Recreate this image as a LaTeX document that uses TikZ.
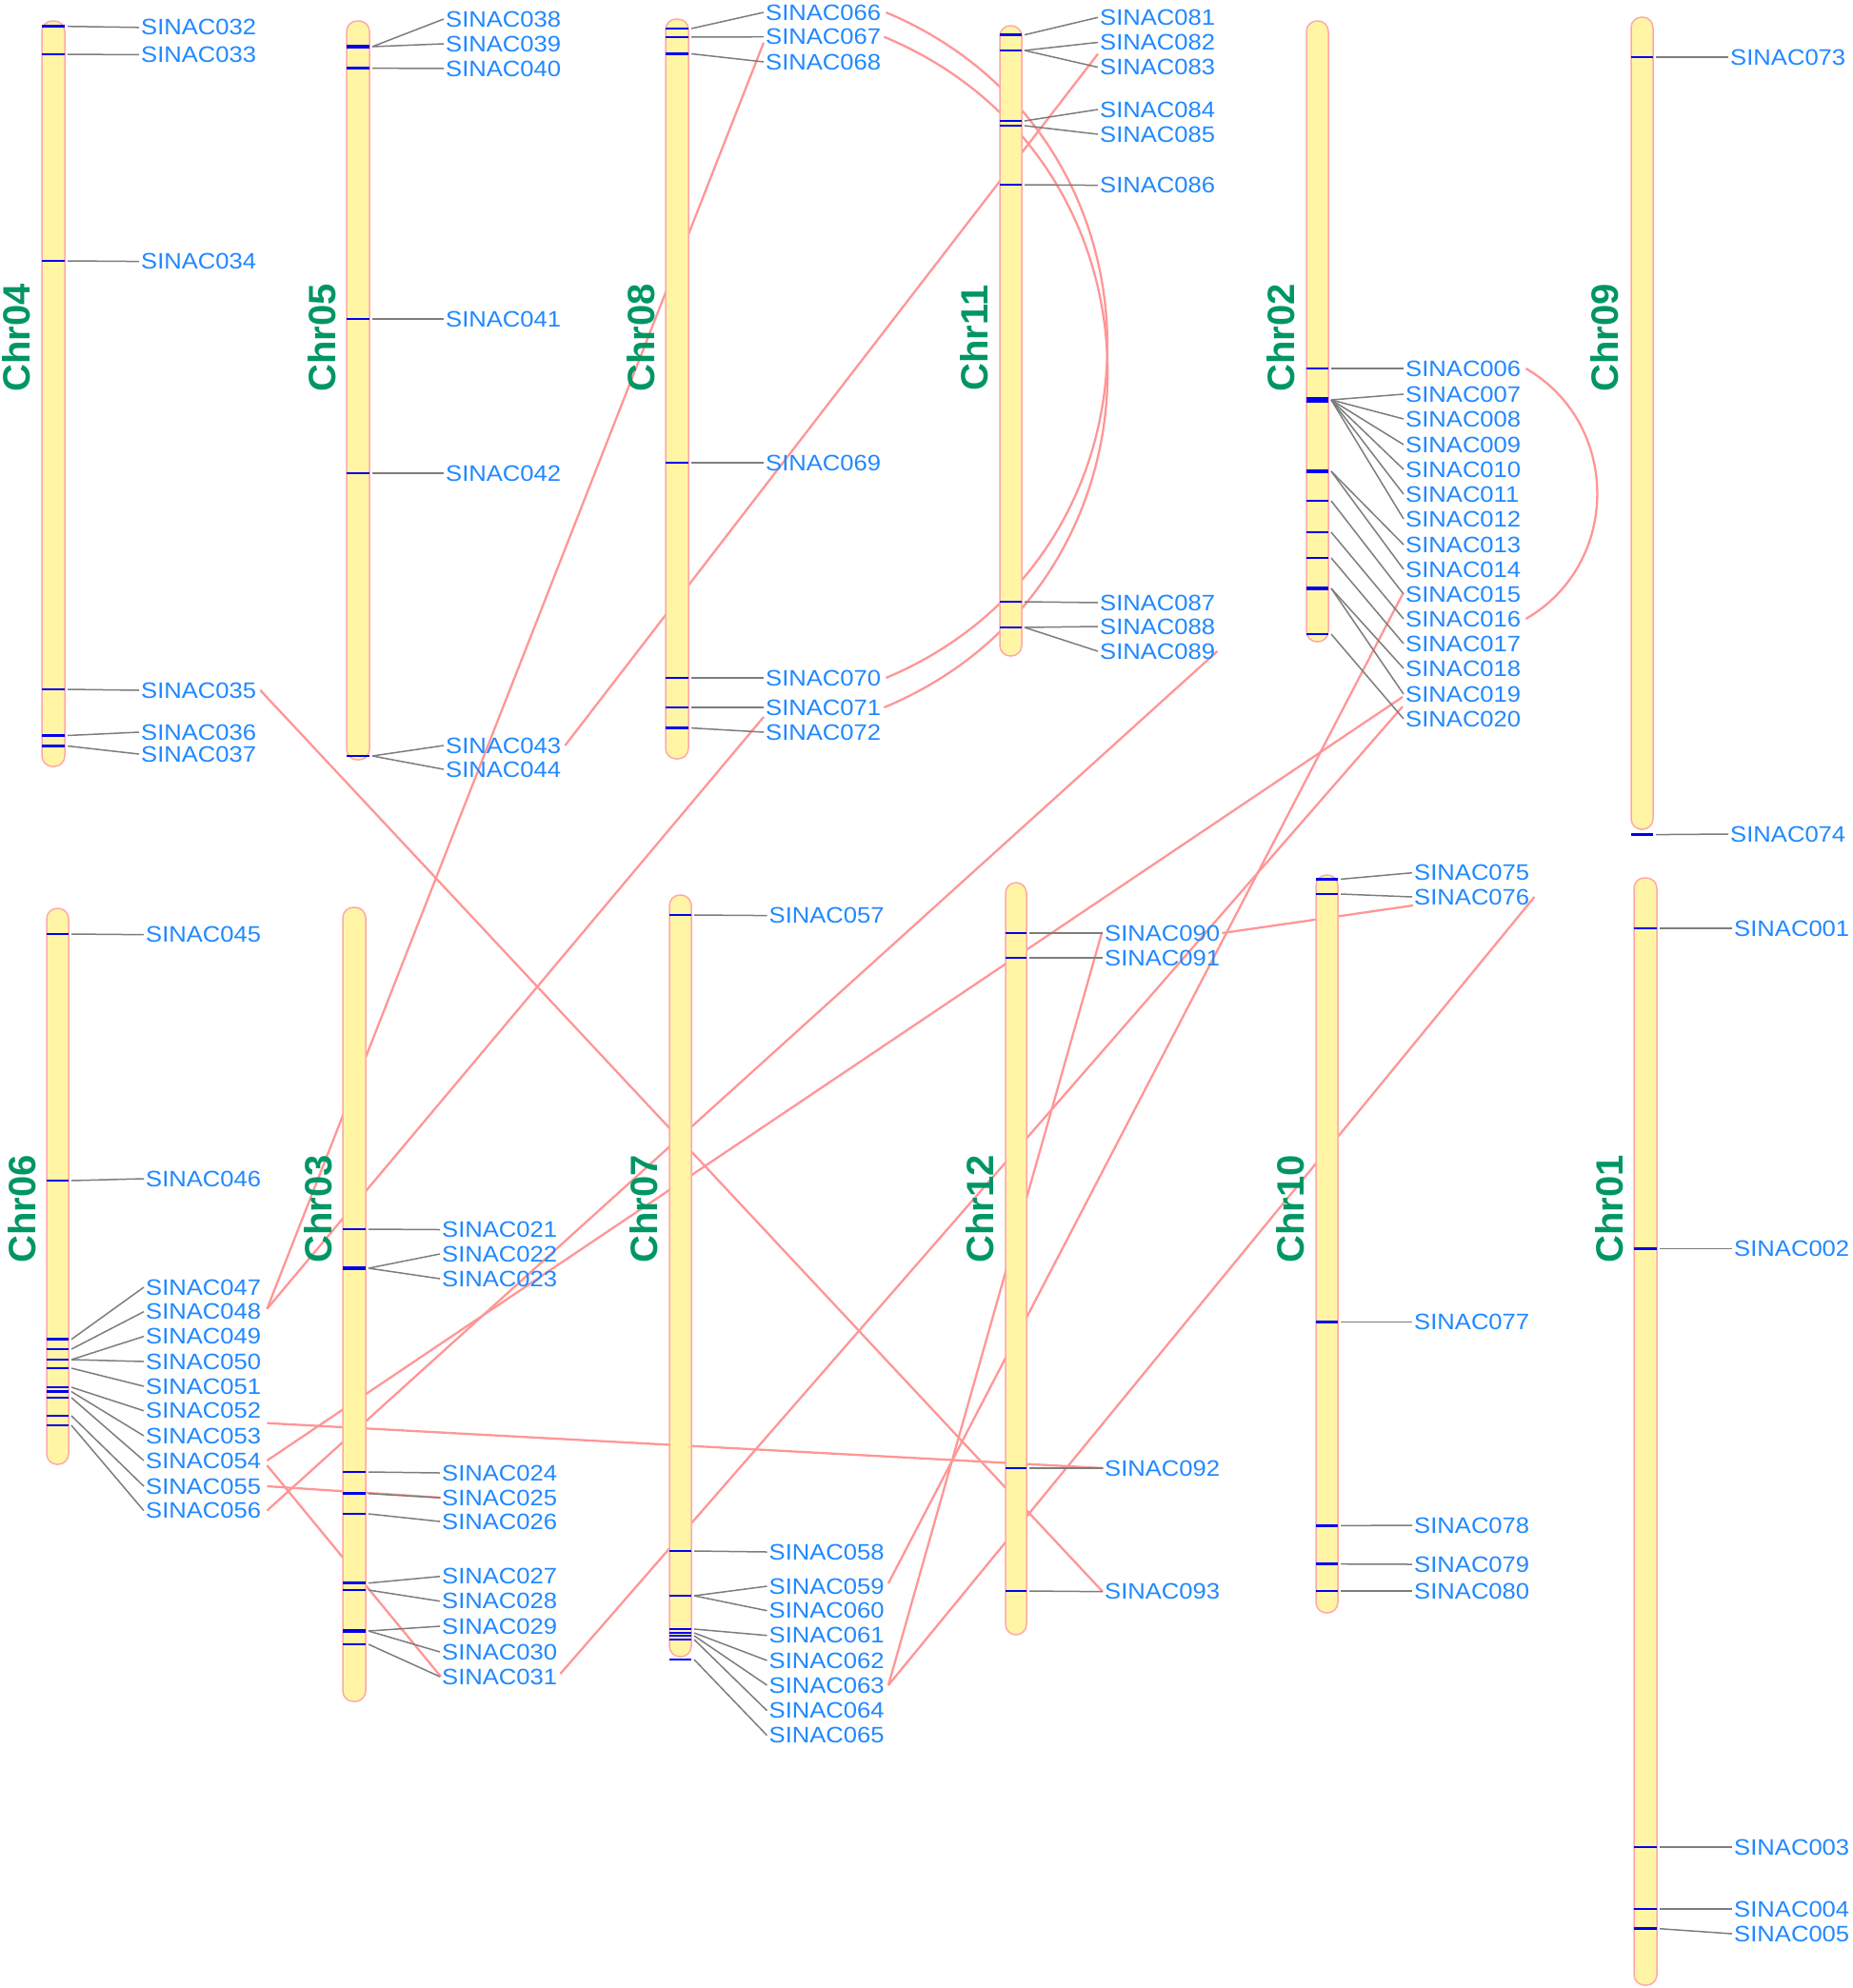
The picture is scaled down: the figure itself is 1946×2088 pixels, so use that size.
\documentclass[tikz,border=0pt]{standalone}
\usepackage{fontspec}
\setmainfont{Liberation Sans}
\newfontfamily\genefont{Liberation Sans}[FakeStretch=1.09]
\pgfdeclarelayer{back}
\pgfsetlayers{back,main}
\definecolor{chrfill}{RGB}{255,245,165}
\definecolor{chredge}{RGB}{255,168,168}
\definecolor{bandblue}{RGB}{0,0,240}
\definecolor{tickgray}{RGB}{125,125,125}
\definecolor{genetext}{RGB}{32,136,255}
\definecolor{chrgreen}{RGB}{0,150,100}
\definecolor{linkred}{RGB}{255,150,150}
\tikzset{
  chrbar/.style={draw=chredge, fill=chrfill, line width=1.5pt, rounded corners=11pt},
  chrname/.style={rotate=90, inner sep=0, text=chrgreen, font=\fontsize{40}{40}\selectfont\bfseries},
  band/.style={draw=bandblue, line width=2.5pt},
  tick/.style={draw=tickgray, line width=1.5pt},
  gene/.style={anchor=west, inner sep=0, text=genetext, font=\genefont\fontsize{23.5}{24}\selectfont},
  link/.style={draw=linkred, line width=2.3pt},
}
\begin{document}
\begin{tikzpicture}[x=1pt, y=-1pt]
  \useasboundingbox (0,0) rectangle (1946,2088);

  % top row
  \node[chrname] (c04) at (17,355) {Chr04};
  \draw[chrbar] (44,22) rectangle (68,805);
  \foreach \g/\b/\t in {032/27.7/28.8, 033/57/57.5, 034/274/274.6, 035/724/725, 036/772.5/769, 037/783.5/792} {
    \node[gene] (g\g) at (148,\t) {SINAC\g};
    \draw[band] (44,\b) -- (68,\b);
    \draw[tick] (71,\b) -- ([xshift=-2pt]g\g.west);
  }

  \node[chrname] (c05) at (338,355) {Chr05};
  \draw[chrbar] (364,22) rectangle (388,798);
  \foreach \g/\b/\t in {038/49/20, 039/49/46, 040/71.6/72, 041/335/335, 042/497/497, 043/794/783, 044/794/808} {
    \node[gene] (g\g) at (468,\t) {SINAC\g};
    \draw[band] (364,\b) -- (388,\b);
    \draw[tick] (391,\b) -- ([xshift=-2pt]g\g.west);
  }
  \draw[band, line width=4pt] (364,49) -- (388,49);

  \node[chrname] (c08) at (673,355) {Chr08};
  \draw[chrbar] (699,20) rectangle (723,797);
  \foreach \g/\b/\t in {066/30/13, 067/39/38.7, 068/56.5/65, 069/486/486, 070/712/712, 071/743/743, 072/764.6/769} {
    \node[gene] (g\g) at (804,\t) {SINAC\g};
    \draw[band] (699,\b) -- (723,\b);
    \draw[tick] (726,\b) -- ([xshift=-2pt]g\g.west);
  }

  \node[chrname] (c11) at (1023,355) {Chr11};
  \draw[chrbar] (1050,27) rectangle (1073,689);
  \foreach \g/\b/\t in {081/36.6/18.3, 082/53/44.5, 083/53/70.6, 084/127/115, 085/132/141, 086/194/194.6, 087/632/633, 088/659/658, 089/659/684} {
    \node[gene] (g\g) at (1155,\t) {SINAC\g};
    \draw[band] (1050,\b) -- (1073,\b);
    \draw[tick] (1076,\b) -- ([xshift=-2pt]g\g.west);
  }

  \node[chrname] (c02) at (1345,355) {Chr02};
  \draw[chrbar] (1372,22) rectangle (1395,674);
  \foreach \g/\b/\t in {006/387/387, 007/420/414, 008/420/440, 009/420/467, 010/420/493, 011/420/519, 012/420/545, 013/495/572, 014/495/598, 015/526/624, 016/559/650, 017/586/676, 018/618/702, 019/618/729, 020/666/755} {
    \node[gene] (g\g) at (1476,\t) {SINAC\g};
    \draw[band] (1372,\b) -- (1395,\b);
    \draw[tick] (1398,\b) -- ([xshift=-2pt]g\g.west);
  }
  \draw[band, line width=6pt] (1372,420) -- (1395,420);
  \draw[band, line width=4.5pt] (1372,495) -- (1395,495);
  \draw[band, line width=4.5pt] (1372,618) -- (1395,618);

  \node[chrname] (c09) at (1685,355) {Chr09};
  \draw[chrbar] (1713,18) rectangle (1736,871);
  \foreach \g/\b/\t in {073/60/60, 074/876.6/876} {
    \node[gene] (g\g) at (1817,\t) {SINAC\g};
    \draw[band] (1713,\b) -- (1736,\b);
    \draw[tick] (1739,\b) -- ([xshift=-2pt]g\g.west);
  }

  % bottom row
  \node[chrname] (c06) at (23,1270) {Chr06};
  \draw[chrbar] (49,954) rectangle (72,1538);
  \foreach \g/\b/\t in {045/981/981.7, 046/1240/1238, 047/1406.7/1352, 048/1417/1377.7, 049/1428/1403.6, 050/1428/1430, 051/1437/1456, 052/1457/1481.7, 053/1461.6/1508, 054/1468/1534, 055/1487/1561, 056/1497/1586.6} {
    \node[gene] (g\g) at (153,\t) {SINAC\g};
    \draw[band] (49,\b) -- (72,\b);
    \draw[tick] (75,\b) -- ([xshift=-2pt]g\g.west);
  }

  \node[chrname] (c03) at (334,1270) {Chr03};
  \draw[chrbar] (360,953) rectangle (384,1787);
  \foreach \g/\b/\t in {021/1291/1291.5, 022/1332/1317, 023/1332/1343, 024/1546/1547, 025/1568.7/1573, 026/1590/1598, 027/1662.7/1655.7, 028/1670/1681.7, 029/1713/1708, 030/1713/1735, 031/1727/1761} {
    \node[gene] (g\g) at (464,\t) {SINAC\g};
    \draw[band] (360,\b) -- (384,\b);
    \draw[tick] (387,\b) -- ([xshift=-2pt]g\g.west);
  }
  \draw[band, line width=4pt] (360,1332) -- (384,1332);
  \draw[band, line width=4pt] (360,1713) -- (384,1713);

  \node[chrname] (c07) at (676,1270) {Chr07};
  \draw[chrbar] (703,940) rectangle (726,1740);
  \foreach \g/\b/\t in {057/961/961.6, 058/1629/1630, 059/1676/1666, 060/1676/1691.7, 061/1711/1717.7, 062/1715/1744, 063/1718/1770, 064/1722/1796.7, 065/1743/1822.7} {
    \node[gene] (g\g) at (807.5,\t) {SINAC\g};
    \draw[band] (703,\b) -- (726,\b);
    \draw[tick] (729,\b) -- ([xshift=-2pt]g\g.west);
  }

  \node[chrname] (c12) at (1029,1270) {Chr12};
  \draw[chrbar] (1056,927) rectangle (1078,1717);
  \foreach \g/\b/\t in {090/980/980, 091/1006/1006, 092/1542/1542, 093/1671/1671.7} {
    \node[gene] (g\g) at (1160,\t) {SINAC\g};
    \draw[band] (1056,\b) -- (1078,\b);
    \draw[tick] (1081,\b) -- ([xshift=-2pt]g\g.west);
  }

  \node[chrname] (c10) at (1355,1270) {Chr10};
  \draw[chrbar] (1382,919) rectangle (1405,1694);
  \foreach \g/\b/\t in {075/923.4/916.7, 076/939/942, 077/1388.7/1388.7, 078/1602.4/1602, 079/1642.7/1643, 080/1671/1671} {
    \node[gene] (g\g) at (1485,\t) {SINAC\g};
    \draw[band] (1382,\b) -- (1405,\b);
    \draw[tick] (1408,\b) -- ([xshift=-2pt]g\g.west);
  }

  \node[chrname] (c01) at (1690,1270) {Chr01};
  \draw[chrbar] (1716,922) rectangle (1740,2085);
  \foreach \g/\b/\t in {001/975/975, 002/1311.6/1311.6, 003/1940/1940, 004/2005/2005, 005/2025.7/2031} {
    \node[gene] (g\g) at (1821,\t) {SINAC\g};
    \draw[band] (1716,\b) -- (1740,\b);
    \draw[tick] (1743,\b) -- ([xshift=-2pt]g\g.west);
  }

  % duplicated pairs, behind the chromosomes
  \begin{pgfonlayer}{back}
    \draw[link] ([xshift=4pt]g035.east) -- ([xshift=-2pt]g093.west);
    \draw[link] ([xshift=6pt,yshift=-13pt]g052.east) -- ([xshift=-1pt]g092.west);
    \draw[link] ([xshift=6pt,yshift=3pt]g048.east) -- ([xshift=-2pt,yshift=-6pt]g067.west);
    \draw[link] ([xshift=6pt,yshift=3pt]g048.east) -- ([xshift=-2pt,yshift=16pt]g072.west);
    \draw[link] ([xshift=4pt]g043.east) -- ([xshift=-2pt,yshift=14pt]g083.west);
    \draw[link] ([xshift=6pt]g054.east) -- ([xshift=-3pt,yshift=-3pt]g019.west);
    \draw[link] ([xshift=6pt,yshift=-5pt]g054.east) -- ([xshift=-1pt]g031.west);
    \draw[link] ([xshift=6pt]g055.east) -- ([xshift=-1pt]g025.west);
    \draw[link] ([xshift=6pt]g056.east) -- ([xshift=2pt]g089.east);
    \draw[link] ([xshift=3pt,yshift=3pt]g031.east) -- ([xshift=-3pt,yshift=13pt]g020.west);
    \draw[link] ([xshift=4pt,yshift=3pt]g059.east) -- ([xshift=-3pt]g015.west);
    \draw[link] ([xshift=4pt]g063.east) -- ([xshift=-3pt]g090.west);
    \draw[link] ([xshift=4pt]g063.east) -- ([xshift=5pt]g076.east);
    \draw[link] ([xshift=2pt]g090.east) -- ([xshift=-1pt,yshift=-9pt]g076.west);
    \draw[link] ([xshift=5pt]g066.east) .. controls +(310,130) and +(310,-130) .. ([xshift=5pt]g070.east);
    \draw[link] ([xshift=3pt]g067.east) .. controls +(313,130) and +(313,-130) .. ([xshift=3pt]g071.east);
    \draw[link] ([xshift=5pt]g006.east) .. controls +(100,58) and +(100,-58) .. ([xshift=5pt]g016.east);
  \end{pgfonlayer}
\end{tikzpicture}
\end{document}
